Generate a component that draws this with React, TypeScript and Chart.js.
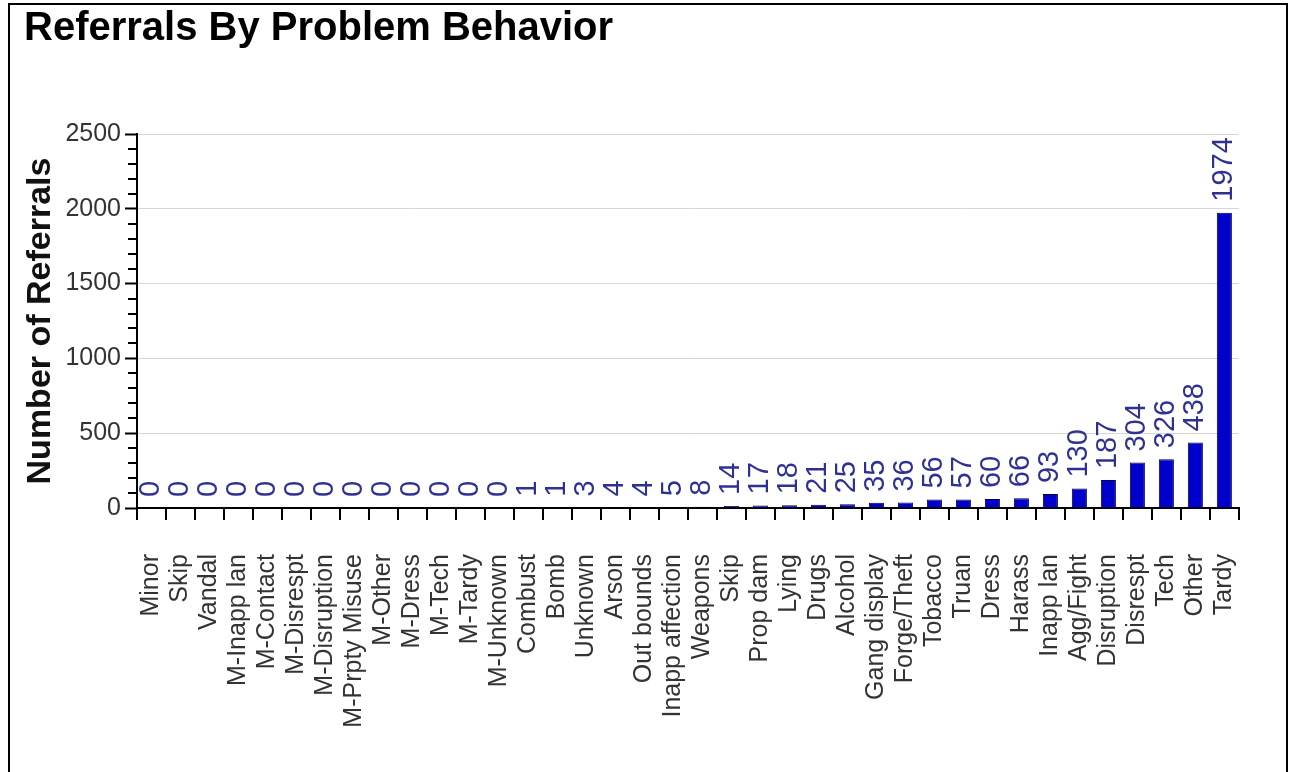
import React, { useEffect, useRef } from "react";
import { Chart, registerables } from "chart.js";

Chart.register(...registerables);

const categories = [
  "Minor", "Skip", "Vandal", "M-Inapp lan", "M-Contact", "M-Disrespt", "M-Disruption",
  "M-Prpty Misuse", "M-Other", "M-Dress", "M-Tech", "M-Tardy", "M-Unknown", "Combust",
  "Bomb", "Unknown", "Arson", "Out bounds", "Inapp affection", "Weapons", "Skip",
  "Prop dam", "Lying", "Drugs", "Alcohol", "Gang display", "Forge/Theft", "Tobacco",
  "Truan", "Dress", "Harass", "Inapp lan", "Agg/Fight", "Disruption", "Disrespt",
  "Tech", "Other", "Tardy",
];
const referrals = [
  0, 0, 0, 0, 0, 0, 0, 0, 0, 0, 0, 0, 0, 1, 1, 3, 4, 4, 5, 8, 14, 17, 18, 21, 25,
  35, 36, 56, 57, 60, 66, 93, 130, 187, 304, 326, 438, 1974,
];
const yTicks = [0, 500, 1000, 1500, 2000, 2500];
const minorStep = 100;

const FONT = '"Liberation Sans", Arial, Helvetica, sans-serif';

const valueLabels = {
  id: "valueLabels",
  afterDatasetsDraw(chart: any) {
    const ctx = chart.ctx;
    const meta = chart.getDatasetMeta(0);
    ctx.save();
    ctx.font = `29px ${FONT}`;
    ctx.fillStyle = "#2E3192";
    ctx.textAlign = "left";
    ctx.textBaseline = "middle";
    meta.data.forEach((el: any, i: number) => {
      ctx.save();
      ctx.translate(el.x, el.y - 11);
      ctx.rotate(-Math.PI / 2);
      ctx.fillText(String(referrals[i]), 0, 0);
      ctx.restore();
    });
    ctx.restore();
  },
};

const minorTicks = {
  id: "minorTicks",
  afterDraw(chart: any) {
    const y = chart.scales.y;
    const ctx = chart.ctx;
    const x0 = y.right;
    ctx.save();
    ctx.strokeStyle = "#000";
    ctx.lineWidth = 2;
    for (let v = y.min; v <= y.max; v += minorStep) {
      if (yTicks.includes(v)) continue;
      const py = Math.round(y.getPixelForValue(v));
      ctx.beginPath();
      ctx.moveTo(x0 - 9, py);
      ctx.lineTo(x0, py);
      ctx.stroke();
    }
    ctx.restore();
  },
};

export default function App() {
  const ref = useRef<HTMLCanvasElement>(null);

  useEffect(() => {
    document.body.style.margin = "0";
    const canvas = ref.current!;
    const chart = new Chart(canvas, {
      type: "bar",
      data: {
        labels: categories,
        datasets: [
          {
            label: "Number of Referrals",
            data: referrals,
            backgroundColor: "#0000CC",
            borderColor: "#00003A",
            borderWidth: 1,
            barPercentage: 0.52,
            categoryPercentage: 1,
          },
        ],
      },
      options: {
        responsive: false,
        animation: false,
        devicePixelRatio: 1,
        layout: { padding: { left: 24, right: 49, top: 0, bottom: 0 } },
        plugins: {
          legend: { display: false },
          tooltip: { enabled: false },
          title: {
            display: true,
            text: "Referrals By Problem Behavior",
            align: "start",
            color: "#000",
            font: { family: FONT, size: 40, weight: "bold", lineHeight: 1.2 },
            padding: { top: 5, bottom: 81 },
          },
        },
        scales: {
          x: {
            type: "category",
            afterFit(scale: any) {
              scale.height = 264;
            },
            grid: {
              display: true,
              offset: true,
              drawOnChartArea: false,
              drawTicks: true,
              tickLength: 12,
              color: "#000",
              lineWidth: 2,
            },
            border: { display: true, color: "#000", width: 2 },
            ticks: {
              autoSkip: false,
              maxRotation: 90,
              minRotation: 90,
              padding: 34,
              color: "#333",
              font: { family: FONT, size: 25 },
            },
          },
          y: {
            min: 0,
            max: 2500,
            afterFit(scale: any) {
              scale.width = 137 - 24;
            },
            afterBuildTicks(scale: any) {
              scale.ticks = yTicks.map((v) => ({ value: v }));
            },
            grid: {
              color: (c: any) => (c.tick && c.tick.value === 0 ? "rgba(0,0,0,0)" : "#d6d6d6"),
              lineWidth: 1,
              drawTicks: true,
              tickLength: 12,
              tickColor: "#000",
              tickWidth: 2,
            },
            border: { display: true, color: "#000", width: 2 },
            ticks: {
              padding: 4,
              color: "#333",
              font: { family: FONT, size: 25 },
              callback: (v: any) => String(v),
            },
            title: {
              display: true,
              text: "Number of Referrals",
              color: "#111",
              font: { family: FONT, size: 34, weight: "bold", lineHeight: 1 },
              padding: { top: 0, bottom: 0 },
            },
          },
        },
      },
      plugins: [valueLabels, minorTicks],
    });
    return () => chart.destroy();
  }, []);

  return (
    <div style={{ position: "relative", width: 1289, height: 772, overflow: "hidden", background: "#fff" }}>
      <canvas ref={ref} width={1289} height={772} style={{ display: "block" }} />
      <div
        style={{
          position: "absolute",
          left: 8,
          top: 3,
          width: 1280,
          height: 769,
          boxSizing: "border-box",
          borderLeft: "2px solid #000",
          borderTop: "2px solid #000",
          borderRight: "2px solid #000",
          pointerEvents: "none",
        }}
      />
    </div>
  );
}
